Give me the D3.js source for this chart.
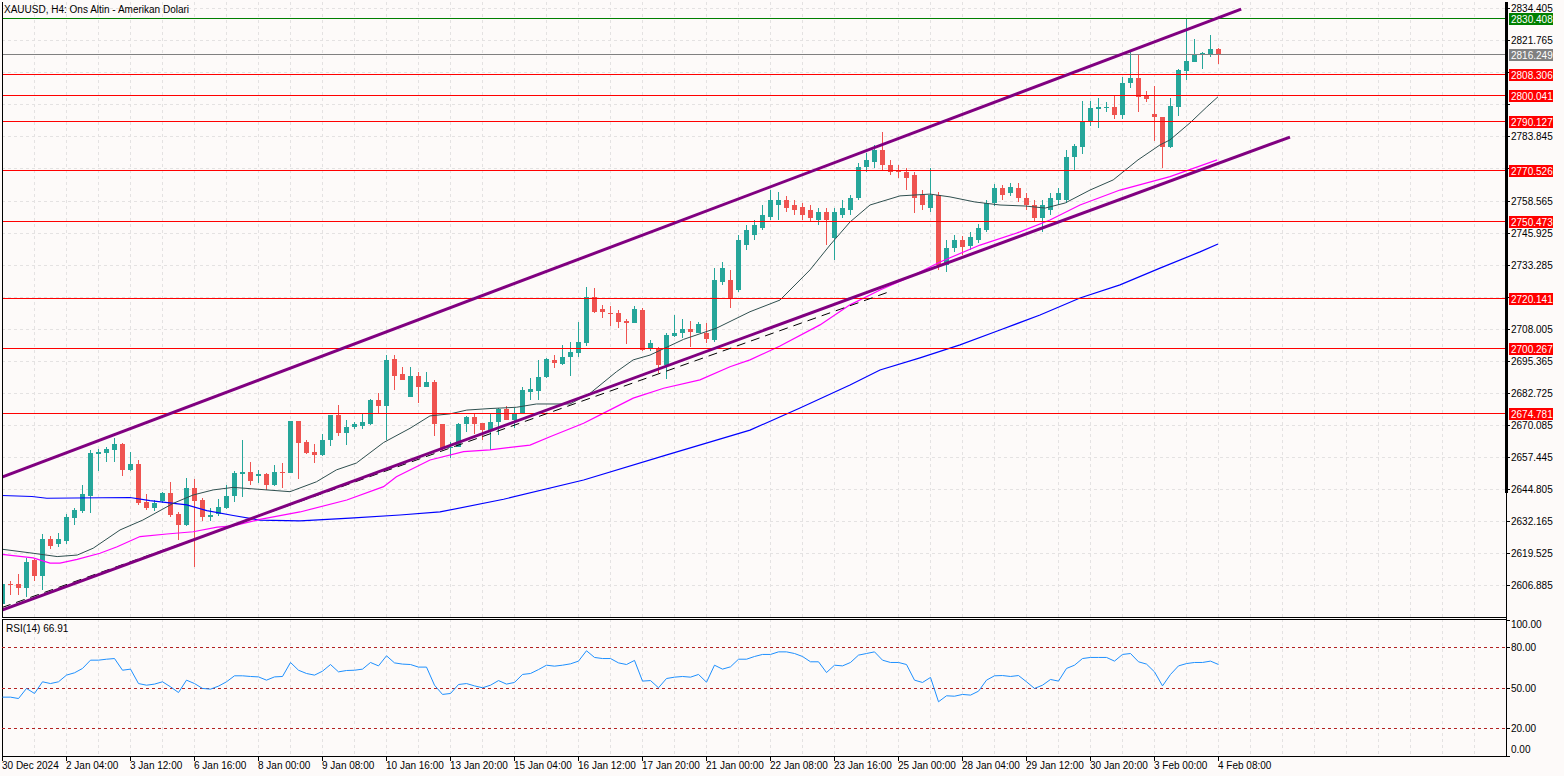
<!DOCTYPE html>
<html><head><meta charset="utf-8">
<script src="https://cdn.jsdelivr.net/npm/d3@7"></script>
<style>html,body{margin:0;padding:0;background:#fdfaf9;} svg{display:block;}</style>
</head><body>
<svg id="c" width="1564" height="776"></svg>
<script>
// ---------- DATA ----------
const title = "XAUUSD, H4:  Ons Altin - Amerikan Dolari";
// [open, high, low, close] per H4 bar
const ohlc = [
[2599.4,2608.9,2597.8,2607.3],[2607.3,2608.6,2603.0,2606.9],[2607.3,2611.3,2603.0,2605.8],[2605.8,2617.6,2602.2,2616.1],
[2616.8,2617.0,2608.6,2610.6],[2610.6,2627.0,2604.9,2625.1],[2625.1,2626.3,2621.1,2622.3],[2623.1,2627.4,2622.0,2625.1],
[2624.4,2634.9,2623.1,2633.7],[2633.4,2637.3,2630.6,2636.5],[2636.2,2646.4,2635.3,2642.8],[2642.0,2660.2,2635.4,2659.1],
[2658.7,2660.6,2652.0,2659.5],[2659.1,2661.5,2655.5,2660.6],[2660.2,2664.9,2655.5,2662.5],[2662.5,2663.0,2649.7,2652.3],
[2652.3,2659.2,2652.0,2654.6],[2654.6,2656.2,2638.5,2639.4],[2639.5,2642.8,2636.5,2637.4],[2637.4,2640.4,2636.2,2639.1],
[2640.0,2643.5,2639.2,2643.2],[2643.1,2647.5,2633.6,2634.5],[2634.9,2635.8,2624.7,2630.6],[2630.6,2649.1,2630.2,2645.0],
[2645.0,2648.7,2613.9,2640.2],[2640.4,2641.2,2632.3,2633.9],[2633.9,2637.3,2632.3,2634.5],[2634.8,2640.8,2634.2,2637.6],
[2637.4,2646.4,2636.9,2642.0],[2642.0,2652.0,2639.8,2650.9],[2650.6,2664.1,2641.7,2651.4],[2651.4,2655.5,2646.4,2647.9],
[2649.9,2652.3,2647.1,2650.6],[2650.7,2651.0,2644.4,2646.4],[2646.4,2654.2,2646.1,2651.4],[2651.4,2655.0,2645.2,2650.9],
[2651.2,2671.7,2651.0,2671.4],[2671.4,2671.6,2648.7,2663.1],[2663.3,2664.1,2658.6,2658.9],[2659.4,2662.5,2655.1,2658.2],
[2658.2,2666.5,2657.9,2664.1],[2664.0,2674.0,2661.9,2673.9],[2674.0,2677.9,2665.7,2666.7],[2667.0,2672.0,2662.1,2669.4],
[2669.1,2671.3,2668.3,2670.4],[2669.8,2674.4,2668.5,2671.3],[2670.3,2680.3,2670.0,2679.9],[2679.9,2682.8,2674.9,2677.5],
[2677.5,2697.6,2664.1,2695.7],[2695.9,2697.6,2683.8,2689.4],[2690.1,2693.0,2687.6,2687.8],[2681.2,2692.9,2681.0,2689.4],
[2689.4,2691.1,2678.8,2685.1],[2685.1,2691.1,2685.0,2687.0],[2687.0,2687.8,2665.7,2670.4],[2670.4,2670.6,2660.2,2661.0],
[2661.0,2663.4,2656.9,2661.5],[2661.5,2670.9,2661.3,2670.4],[2670.4,2673.5,2667.4,2673.3],[2673.3,2674.4,2666.5,2670.4],
[2670.7,2670.9,2664.1,2668.1],[2668.1,2674.2,2660.2,2671.0],[2671.0,2676.7,2666.1,2676.2],[2676.2,2677.5,2671.8,2672.0],
[2672.0,2676.7,2668.7,2674.9],[2674.7,2685.0,2674.4,2683.8],[2683.2,2688.6,2679.9,2684.3],[2683.6,2695.7,2679.9,2688.8],
[2688.8,2696.5,2688.5,2695.9],[2695.7,2697.6,2692.4,2694.6],[2694.1,2701.6,2693.7,2697.0],[2696.7,2702.9,2689.4,2698.9],
[2698.5,2710.8,2697.0,2702.9],[2702.5,2724.5,2701.2,2720.5],[2720.5,2724.1,2714.2,2714.7],[2715.7,2717.4,2712.1,2714.7],
[2714.3,2717.0,2709.1,2713.8],[2714.3,2715.4,2708.2,2710.8],[2711.2,2711.7,2702.0,2710.4],[2710.4,2717.0,2710.2,2715.7],
[2715.4,2716.2,2699.4,2699.6],[2699.9,2703.6,2699.4,2702.3],[2700.3,2700.9,2690.4,2693.7],[2693.7,2706.2,2688.1,2705.5],
[2705.1,2713.4,2704.9,2706.2],[2706.4,2711.7,2704.2,2707.8],[2707.8,2711.2,2700.9,2706.8],[2706.4,2710.7,2706.3,2709.9],
[2706.2,2710.4,2702.5,2703.8],[2703.5,2731.9,2702.8,2727.3],[2726.4,2734.3,2725.3,2732.0],[2727.2,2731.2,2716.2,2720.1],
[2723.3,2745.0,2722.5,2743.0],[2741.0,2748.9,2739.1,2747.0],[2745.0,2750.9,2743.0,2748.9],[2747.7,2756.8,2747.0,2752.9],
[2752.1,2762.7,2750.9,2758.8],[2756.8,2761.9,2750.9,2758.8],[2758.8,2760.4,2754.1,2755.6],[2756.8,2758.8,2752.9,2754.8],
[2756.0,2757.6,2750.9,2752.9],[2754.8,2756.8,2750.1,2751.7],[2750.9,2755.6,2748.9,2754.1],[2754.1,2755.6,2741.0,2750.9],
[2743.8,2755.6,2735.1,2754.1],[2752.9,2758.8,2751.7,2755.6],[2754.8,2760.8,2752.9,2759.6],[2759.6,2773.4,2758.8,2771.8],
[2771.8,2777.3,2769.8,2774.6],[2773.8,2780.5,2771.4,2778.5],[2778.5,2785.6,2770.6,2772.6],[2772.6,2774.6,2768.6,2769.8],
[2770.6,2772.6,2767.5,2769.8],[2769.8,2771.4,2762.7,2767.5],[2768.6,2769.8,2753.7,2759.6],[2760.8,2762.7,2754.8,2756.8],
[2755.6,2771.4,2754.1,2760.8],[2760.8,2761.9,2731.2,2733.1],[2733.1,2743.0,2730.4,2739.9],[2739.9,2745.0,2738.3,2743.0],
[2743.0,2744.6,2737.1,2740.2],[2740.6,2746.2,2739.1,2744.2],[2743.0,2749.3,2741.8,2747.7],[2747.0,2758.8,2746.2,2757.6],
[2757.6,2765.1,2756.4,2763.5],[2763.5,2764.7,2758.8,2760.8],[2761.6,2765.5,2760.4,2763.9],[2763.5,2765.5,2758.0,2759.6],
[2759.6,2761.6,2754.8,2756.8],[2756.8,2758.8,2750.1,2751.7],[2751.7,2758.8,2746.2,2756.8],[2754.8,2761.6,2752.9,2759.6],
[2758.8,2763.5,2756.8,2761.6],[2758.8,2778.5,2757.6,2775.8],[2775.8,2780.9,2770.6,2780.1],[2779.8,2797.8,2776.9,2789.7],
[2789.7,2797.8,2788.0,2795.2],[2794.8,2798.9,2787.1,2795.4],[2795.3,2797.4,2793.5,2795.5],[2795.4,2800.2,2790.6,2792.3],
[2792.3,2807.2,2790.6,2804.8],[2804.8,2817.3,2802.9,2806.8],[2806.8,2816.0,2793.6,2799.5],[2800.2,2801.9,2797.6,2798.6],
[2792.7,2803.8,2782.2,2791.4],[2791.4,2791.6,2771.3,2779.8],[2779.8,2798.9,2779.2,2795.9],[2795.6,2810.3,2791.9,2810.1],
[2809.8,2830.4,2806.1,2813.6],[2813.3,2822.2,2813.2,2816.0],[2816.0,2817.3,2810.5,2816.9],[2816.4,2823.9,2815.1,2818.2],
[2818.4,2818.6,2812.4,2816.25]
];
const rsi = [42.9,42.9,41.9,49.3,45.6,54.2,52.9,54.2,59.1,60.8,64.0,70.1,70.1,70.8,71.3,62.7,63.5,52.9,51.7,52.5,
54.2,50.5,46.3,55.4,52.9,49.3,48.8,51.0,54.2,58.6,58.6,58.1,57.8,55.4,57.8,58.1,68.4,62.7,60.3,59.1,
62.0,66.9,61.5,62.5,62.7,63.5,68.4,65.9,73.3,68.1,67.2,66.9,65.0,65.0,51.7,44.9,45.6,52.2,52.9,51.2,
49.8,51.7,55.1,52.5,53.7,59.6,60.3,63.2,66.4,65.7,66.4,67.4,69.4,77.0,72.1,71.3,71.3,68.1,66.9,69.9,
54.7,55.1,49.8,56.6,57.6,58.1,57.6,59.6,53.9,66.4,63.5,65.2,70.8,70.8,72.8,74.3,74.3,76.2,76.2,75.0,
72.8,68.9,68.9,61.0,66.4,65.9,68.4,73.8,75.0,76.2,70.1,68.4,68.4,66.9,55.4,53.7,57.4,39.5,43.9,43.6,
44.9,44.4,47.3,55.4,58.6,58.8,58.1,58.8,54.2,49.3,51.7,55.9,54.7,64.0,66.4,71.3,72.1,72.1,72.1,69.4,
74.3,75.0,68.9,67.2,61.5,51.2,59.6,65.9,67.6,68.4,68.4,69.4,66.91];
// moving averages: [bar index, price]
const maGray = [[0,2621.0],[3.9,2619.4],[6.9,2618.1],[9.4,2618.7],[11.4,2621.4],[14.75,2628.6],[17.6,2632.5],[21.4,2639.1],
[23.9,2642.4],[26.4,2644.4],[28.9,2645.4],[32.25,2644.6],[36,2643.7],[39.3,2647.6],[41.8,2652.3],[44.3,2655.0],[47.7,2663.1],
[51,2668.7],[53.5,2673.6],[56,2674.4],[58.1,2675.9],[61,2676.5],[64.3,2677.0],[66.8,2678.3],[71,2678.3],[73.5,2682.5],
[76.8,2691.0],[78.9,2695.7],[81,2697.6],[85.2,2703.8],[89.3,2708.2],[93.5,2714.7],[97.25,2719.3],[101,2731.2],[103.5,2741.0],
[106,2750.1],[108.5,2756.8],[112.25,2760.4],[116,2761.1],[118.5,2760.0],[121.6,2758.0],[124.75,2756.8],[127.9,2756.4],
[130.4,2755.6],[132.9,2757.6],[136,2762.7],[138.9,2766.7],[142,2774.6],[144.75,2780.5],[146,2782.5],[148.5,2789.2],
[150.6,2795.5],[152,2799.5]];
const maMagenta = [[0,2619.0],[3.9,2617.6],[6,2615.5],[7.25,2615.5],[9.4,2617.0],[12.25,2619.4],[14.4,2622.0],[17.25,2626.0],
[20.6,2627.0],[23.9,2627.9],[26.9,2629.7],[28.9,2630.2],[32.25,2632.8],[37.25,2635.7],[43.1,2640.4],[47.7,2645.7],
[49.3,2649.6],[53.5,2656.2],[57.7,2659.5],[61,2660.2],[66,2662.1],[68.5,2665.4],[72.7,2670.7],[75.2,2674.7],[78.9,2680.6],
[82.7,2684.5],[87.25,2687.8],[91,2693.0],[93.5,2695.7],[97.25,2701.2],[102.25,2709.5],[106,2717.4],[109.75,2723.3],
[113.5,2728.4],[117.25,2734.3],[122.25,2741.0],[127.25,2746.2],[131,2750.9],[134.75,2756.8],[139.75,2762.7],[146,2768.0],
[151.9,2774.6]];
const maBlue = [[0,2642.2],[3.75,2641.8],[5.6,2641.1],[16,2641.4],[18.5,2640.2],[23.1,2638.5],[25.6,2636.2],[28.9,2634.3],
[32.25,2632.5],[37.25,2632.2],[43.5,2633.3],[49.75,2634.5],[54.75,2635.7],[62.7,2640.7],[72.7,2648.3],[83.1,2658.2],
[93.5,2668.0],[99.75,2676.7],[106,2685.8],[109.75,2691.7],[114.75,2696.5],[119.75,2701.6],[124.75,2707.5],[129.75,2713.4],
[134.75,2720.1],[139.75,2725.3],[144.75,2731.9],[149.75,2738.3],[152,2741.4]];
// trend objects: [bar index, price]
const channelUpper = [[0,2649.5],[154.9,2834.1]];
const channelLower = [[0,2597.0],[161,2783.6]];
const trendDashed  = [[0,2598.0],[110.75,2722.4]];
const levelLines = [
  {v:2830.408,color:"#008000"},{v:2816.249,color:"#808080"},
  {v:2808.306,color:"#ff0000"},{v:2800.041,color:"#ff0000"},{v:2790.127,color:"#ff0000"},
  {v:2770.526,color:"#ff0000"},{v:2750.473,color:"#ff0000"},{v:2720.141,color:"#ff0000"},
  {v:2700.267,color:"#ff0000"},{v:2674.781,color:"#ff0000"}];
const priceTicks = [2834.405,2821.765,2809.125,2796.485,2783.845,2771.205,2758.565,2745.925,2733.285,2720.645,
  2708.005,2695.365,2682.725,2670.085,2657.445,2644.805,2632.165,2619.525,2606.885];
const timeLabels = ["30 Dec 2024","2 Jan 04:00","3 Jan 12:00","6 Jan 16:00","8 Jan 00:00","9 Jan 08:00","10 Jan 16:00",
  "13 Jan 20:00","15 Jan 04:00","16 Jan 12:00","17 Jan 20:00","21 Jan 00:00","22 Jan 08:00","23 Jan 16:00","25 Jan 00:00",
  "28 Jan 04:00","29 Jan 12:00","30 Jan 20:00","3 Feb 00:00","4 Feb 08:00"];
const rsiLevels = [80,50,20];
const rsiTicks = [100,80,50,20,0];
const rsiLabel = "RSI(14) 66.91";

// ---------- LAYOUT ----------
const L=2, R=1506, T=2, B=617, RT=619, RB=756;
const FONT = "'Liberation Sans', Arial, sans-serif";
const svg = d3.select("#c");
const x = d3.scaleLinear().domain([0,188]).range([L,R]);
const y = d3.scaleLinear().domain([2606.885,2834.405]).range([585,8.3]);
const yr = d3.scaleLinear().domain([0,100]).range([755.5,619.5]);
const teal="#26a69a", red="#ef5350";

svg.append("defs").append("clipPath").attr("id","mainclip").append("rect")
  .attr("x",L).attr("y",T).attr("width",R-L).attr("height",B-T);
svg.select("defs").append("clipPath").attr("id","rsiclip").append("rect")
  .attr("x",L).attr("y",RT).attr("width",R-L).attr("height",RB-RT);

const grid = svg.append("g").attr("shape-rendering","crispEdges");
for (let gx=L+32; gx<R; gx+=32) {
  grid.append("line").attr("x1",gx+0.5).attr("x2",gx+0.5).attr("y1",T).attr("y2",B)
    .attr("stroke","#e4e2e2").attr("stroke-dasharray","3,3");
  grid.append("line").attr("x1",gx+0.5).attr("x2",gx+0.5).attr("y1",RT).attr("y2",RB)
    .attr("stroke","#e4e2e2").attr("stroke-dasharray","3,3");
}
priceTicks.forEach(t=>{
  const yy=Math.round(y(t))+0.5;
  grid.append("line").attr("x1",L).attr("x2",R).attr("y1",yy).attr("y2",yy)
    .attr("stroke","#e4e2e2").attr("stroke-dasharray","3,3");
});

const main = svg.append("g").attr("clip-path","url(#mainclip)");
const cg = main.append("g").attr("shape-rendering","crispEdges");
ohlc.forEach((d,k)=>{
  const [o,h0,l0,c]=d; const h=Math.max(h0,o,c), l=Math.min(l0,o,c);
  const cx=Math.round(x(k)); const col = c>=o?teal:red;
  cg.append("line").attr("x1",cx+0.5).attr("x2",cx+0.5).attr("y1",y(h)).attr("y2",y(l)).attr("stroke",col);
  const top=Math.round(y(Math.max(o,c))), bot=Math.round(y(Math.min(o,c)));
  cg.append("rect").attr("x",cx-2).attr("y",top).attr("width",5).attr("height",Math.max(1,bot-top)).attr("fill",col);
});
const line = d3.line().x(d=>x(d[0])).y(d=>y(d[1]));
main.append("path").attr("d",line(maBlue)).attr("fill","none").attr("stroke","#0000ff").attr("stroke-width",1.2);
main.append("path").attr("d",line(maMagenta)).attr("fill","none").attr("stroke","#ff00ff").attr("stroke-width",1.2);
main.append("path").attr("d",line(maGray)).attr("fill","none").attr("stroke","#2f4f4f").attr("stroke-width",1);
levelLines.forEach(l=>{
  const yy=Math.round(y(l.v))+0.5;
  main.append("line").attr("x1",L).attr("x2",R).attr("y1",yy).attr("y2",yy).attr("stroke",l.color).attr("stroke-width",1);
});
main.append("path").attr("d",line(trendDashed)).attr("stroke","#000").attr("stroke-width",1).attr("stroke-dasharray","9,6").attr("fill","none");
main.append("path").attr("d",line(channelUpper)).attr("stroke","#800080").attr("stroke-width",3).attr("fill","none");
main.append("path").attr("d",line(channelLower)).attr("stroke","#800080").attr("stroke-width",3).attr("fill","none");

const bd = svg.append("g").attr("shape-rendering","crispEdges").attr("stroke","#000").attr("fill","none");
bd.append("line").attr("x1",L+0.5).attr("x2",L+0.5).attr("y1",T).attr("y2",B+1);
bd.append("line").attr("x1",L).attr("x2",R).attr("y1",B+0.5).attr("y2",B+0.5);
bd.append("line").attr("x1",L).attr("x2",R).attr("y1",RT+0.5).attr("y2",RT+0.5);
bd.append("line").attr("x1",L+0.5).attr("x2",L+0.5).attr("y1",RT).attr("y2",RB);
bd.append("line").attr("x1",L).attr("x2",R+1).attr("y1",RB+0.5).attr("y2",RB+0.5);
bd.append("line").attr("x1",R+0.5).attr("x2",R+0.5).attr("y1",T).attr("y2",RB);
svg.append("rect").attr("x",R-1).attr("y",T).attr("width",3).attr("height",493-T).attr("fill","#000");

const ax = svg.append("g").attr("font-family",FONT).attr("font-size","10px");
priceTicks.forEach(t=>{
  const yy=Math.round(y(t))+0.5;
  ax.append("line").attr("x1",R).attr("x2",R+4).attr("y1",yy).attr("y2",yy).attr("stroke","#000").attr("shape-rendering","crispEdges");
  const hidden = levelLines.some(l=>Math.abs(y(l.v)-y(t))<10);
  if(!hidden) ax.append("text").attr("x",1511).attr("y",yy).attr("dy","0.35em").attr("fill","#000").text(t.toFixed(3));
});
levelLines.forEach(l=>{
  const yy=Math.round(y(l.v));
  ax.append("rect").attr("x",1509).attr("y",yy-5).attr("width",44).attr("height",12).attr("fill",l.color);
  ax.append("text").attr("x",1511).attr("y",yy+1).attr("dy","0.35em").attr("fill","#fff").text(l.v.toFixed(3));
});
svg.append("text").attr("x",4).attr("y",13).attr("font-family",FONT).attr("font-size","10px").attr("fill","#000").text(title);

const rg = svg.append("g").attr("clip-path","url(#rsiclip)");
rsiLevels.forEach(v=>{
  const yy=Math.round(yr(v))+0.5;
  rg.append("line").attr("x1",L).attr("x2",R).attr("y1",yy).attr("y2",yy).attr("stroke","#b22222").attr("stroke-dasharray","3,3").attr("shape-rendering","crispEdges");
});
const rline = d3.line().x((d,i)=>x(i)+0.5).y(d=>yr(d));
rg.append("path").attr("d",rline(rsi)).attr("fill","none").attr("stroke","#1e90ff").attr("stroke-width",1);
rsiTicks.forEach(v=>{
  const yy=Math.round(yr(v))+0.5;
  ax.append("line").attr("x1",R).attr("x2",R+4).attr("y1",yy).attr("y2",yy).attr("stroke","#000").attr("shape-rendering","crispEdges");
  ax.append("text").attr("x",1511).attr("y",Math.min(749,Math.max(624,yy))).attr("dy","0.35em").text(v.toFixed(2));
});
svg.append("text").attr("x",6).attr("y",632).attr("font-family",FONT).attr("font-size","10px").text(rsiLabel);

timeLabels.forEach((t,j)=>{
  const xx=Math.round(x(8*j))+0.5;
  ax.append("line").attr("x1",xx).attr("x2",xx).attr("y1",RB).attr("y2",RB+5).attr("stroke","#000").attr("shape-rendering","crispEdges");
  ax.append("text").attr("x",xx-0.5).attr("y",769).text(t);
});
</script>
</body></html>
